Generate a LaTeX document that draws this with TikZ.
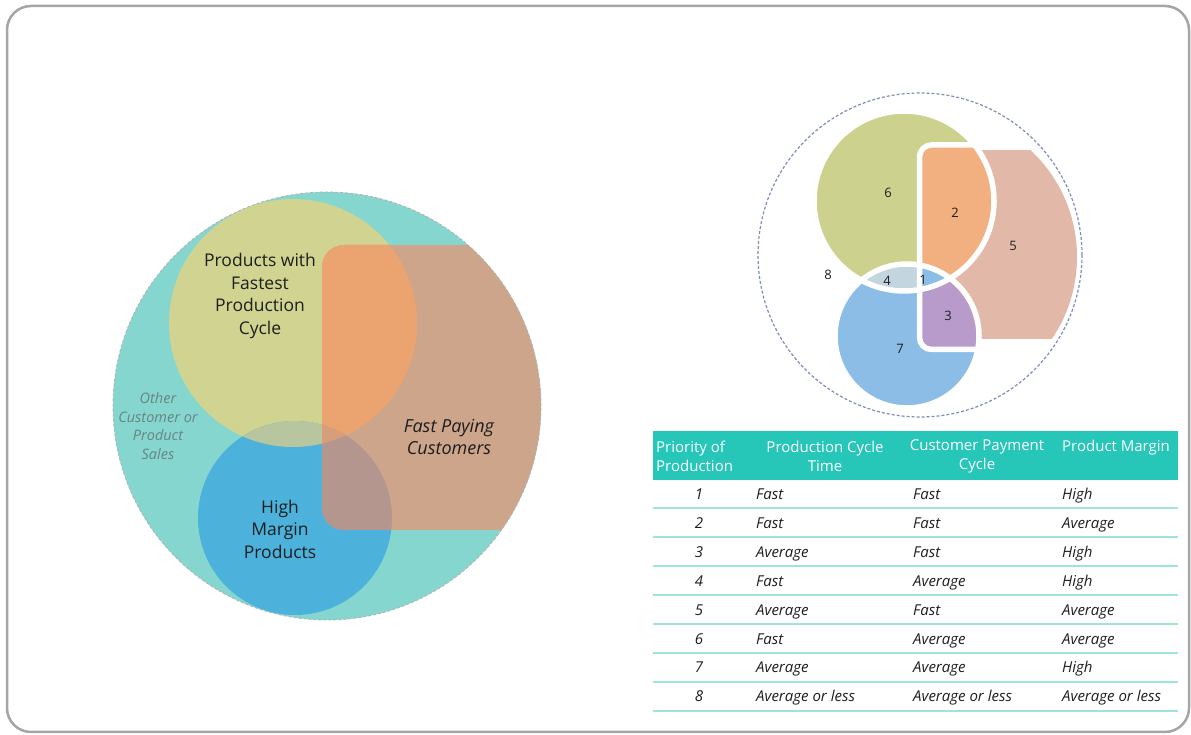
\documentclass[tikz,border=0pt]{standalone}
\usepackage{fontspec}
\setmainfont{Open Sans}
\usepackage{tikz}
\usetikzlibrary{positioning}
\definecolor{framegray}{RGB}{165,165,165}
\definecolor{setteal}{RGB}{133,214,207}
\definecolor{fastyellow}{RGB}{208,212,144}
\definecolor{marginblue}{RGB}{76,178,220}
\definecolor{lensgreen}{RGB}{183,198,158}
\definecolor{payingtan}{RGB}{205,165,139}
\definecolor{payingorange}{RGB}{235,164,111}
\definecolor{payingmauve}{RGB}{180,150,143}
\definecolor{payingcore}{RGB}{215,158,123}
\definecolor{zonegreen}{RGB}{204,209,142}
\definecolor{zoneorange}{RGB}{242,175,128}
\definecolor{zonesalmon}{RGB}{226,185,168}
\definecolor{zonepurple}{RGB}{184,155,203}
\definecolor{zoneblue}{RGB}{139,189,231}
\definecolor{zonelens}{RGB}{195,214,224}
\definecolor{ringblue}{RGB}{127,141,181}
\definecolor{headteal}{RGB}{38,198,184}
\definecolor{rowline}{RGB}{160,227,221}
\definecolor{inkgray}{RGB}{30,30,30}
\definecolor{othergray}{RGB}{105,132,130}

\begin{document}
\begin{tikzpicture}[x=1pt, y=1pt,
    setlabel/.style={align=center, text=inkgray, inner sep=0pt, font=\fontsize{17.5}{22.5}\selectfont},
    zonenum/.style={text=inkgray, inner sep=0pt, font=\fontsize{13}{15}\selectfont},
    headcell/.style={text=white, inner sep=0pt, font=\fontsize{15}{19}\selectfont},
    bodycell/.style={text=inkgray, inner sep=0pt, anchor=base west, font=\fontsize{15}{17}\selectfont\itshape}]
  \useasboundingbox (0,0) rectangle (1191,735);
  \draw[framegray, line width=2.5pt, rounded corners=24pt] (7,3) rectangle (1189,729);

  % overlapping sets
  \fill[setteal] (327,329) circle (214);
  \fill[fastyellow] (293,412) circle (124);
  \fill[marginblue] (295,217) circle (97);
  \begin{scope}
    \clip (293,412) circle (124);
    \fill[lensgreen] (295,217) circle (97);
  \end{scope}
  \begin{scope}
    \clip (327,329) circle (214);
    \fill[payingtan, rounded corners=22pt] (322,205) rectangle (600,490);
    \clip[rounded corners=22pt] (322,205) rectangle (600,490);
    \fill[payingorange] (293,412) circle (124);
    \fill[payingmauve] (295,217) circle (97);
    \clip (293,412) circle (124);
    \fill[payingcore] (295,217) circle (97);
  \end{scope}
  \draw[gray!60, densely dashed, line width=0.8pt] (327,329) circle (214);

  \node[setlabel] (fastest) at (260,439) {Products with\\Fastest\\Production\\Cycle};
  \node[setlabel] (margin) at (280,206) {High\\Margin\\Products};
  \node[setlabel, font=\fontsize{18}{22.5}\selectfont\itshape] (paying) at (449,298) {Fast Paying\\Customers};
  \node[setlabel, text=othergray, font=\fontsize{14.5}{18.5}\selectfont\itshape] (other) at (158,309) {Other\\Customer or\\Product\\Sales};

  % exploded zones, numbered by priority
  \begin{scope}
    \clip (931,478) circle (146);
    \fill[zonesalmon] (919.5,396) rectangle (1100,585);
  \end{scope}
  \fill[zonegreen] (904,534) circle (90);
  \fill[zoneblue] (907,399) circle (72);
  \begin{scope}
    \clip (904,534) circle (90);
    \fill[zonelens] (907,399) circle (72);
  \end{scope}
  \begin{scope}
    \clip[rounded corners=12pt] (919.5,385.5) rectangle (1100,590);
    \fill[zoneorange] (904,534) circle (90);
    \fill[zonepurple] (907,399) circle (72);
    \clip (904,534) circle (90);
    \fill[zoneblue] (907,399) circle (72);
  \end{scope}
  % white gaps
  \draw[white, line width=5.5pt] (904,534) circle (90) (907,399) circle (72);
  \draw[white, line width=5.5pt, rounded corners=12pt] (919.5,385.5) rectangle (1100,590);
  \draw[ringblue, densely dashed, line width=1.2pt] (920,480) circle (162);

  \node[zonenum] (z1) at (923,455) {1};
  \node[zonenum] (z2) at (955,522) {2};
  \node[zonenum] (z3) at (948,419) {3};
  \node[zonenum] (z4) at (887,454) {4};
  \node[zonenum] (z5) at (1013,489) {5};
  \node[zonenum] (z6) at (888,542) {6};
  \node[zonenum] (z7) at (900,386) {7};
  \node[zonenum] (z8) at (828,460) {8};

  % priority table
  \fill[headteal] (653,255) rectangle (1178,304);
  \node[headcell, align=left, anchor=west] (hprio) at (656,279) {Priority of\\Production};
  \node[headcell, align=center] (hcycle) at (825,279) {Production Cycle\\Time};
  \node[headcell, align=center] (hpay) at (977,279) {Customer Payment\\Cycle};
  \node[headcell, anchor=base west] (hmargin) at (1062,283) {Product Margin};
  \foreach \n/\cyc/\pay/\mar [count=\i from 0] in {1/Fast/Fast/High, 2/Fast/Fast/Average,
      3/Average/Fast/High, 4/Fast/Average/High, 5/Average/Fast/Average,
      6/Fast/Average/Average, 7/Average/Average/High,
      8/Average or less/Average or less/Average or less} {
    \node[bodycell, anchor=base] (prio\n) at (699,235.2-28.86*\i) {\n};
    \node[bodycell] (cyc\n) at (756,235.2-28.86*\i) {\cyc};
    \node[bodycell] (pay\n) at (913,235.2-28.86*\i) {\pay};
    \node[bodycell] (mar\n) at (1062,235.2-28.86*\i) {\mar};
    \draw[rowline, line width=2pt] (653,226.5-28.86*\i) -- (1178,226.5-28.86*\i);
  }
\end{tikzpicture}
\end{document}
